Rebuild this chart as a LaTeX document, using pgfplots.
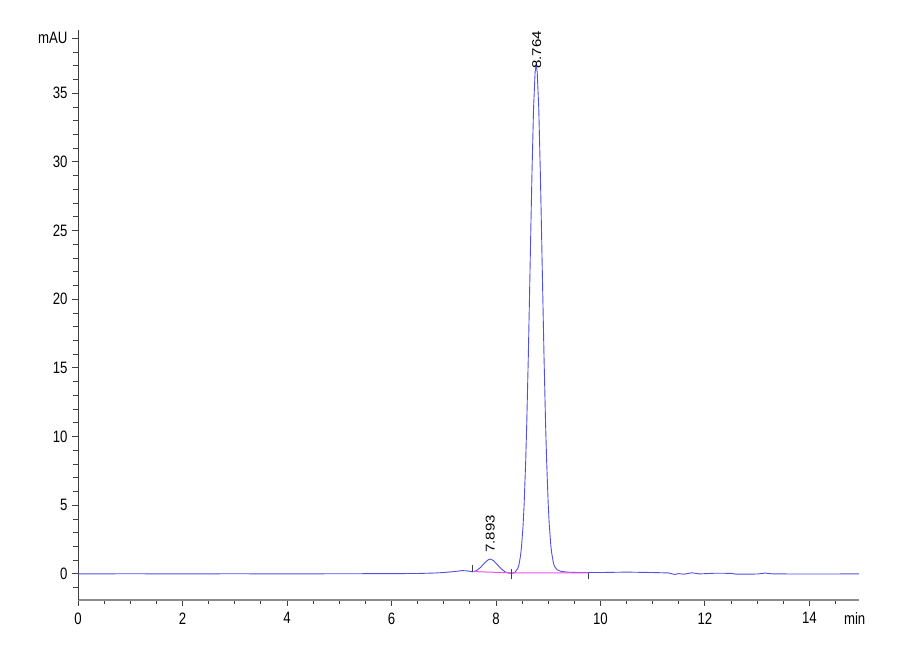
\documentclass[border=0pt]{standalone}
\usepackage{pgfplots}
\pgfplotsset{compat=1.18}
\usepackage{fontspec}
\setmainfont{Liberation Sans}[FakeStretch=0.8]
\newfontfamily\plainfont{Liberation Sans}
\definecolor{trace}{RGB}{80,80,225}
\definecolor{basecol}{RGB}{235,80,235}
\begin{document}
\begin{tikzpicture}
\begin{axis}[
    scale only axis,
    width=781pt, height=570pt,
    xmin=0, xmax=14.95,
    ymin=-1.9, ymax=39.6,
    axis lines=left,
    axis line style={-},
    x axis line style={black!45, line width=1.6pt},
    y axis line style={black!75, line width=0.8pt},
    xtick={0,2,...,14},
    minor xtick={0,0.5,...,14.5},
    ytick={0,5,...,35},
    minor ytick={-1,0,...,38},
    extra y ticks={39},
    extra y tick labels={mAU},
    tick align=outside,
    major tick length=6pt,
    minor tick length=4.5pt,
    tick style={black!75, line width=0.8pt},
    tick label style={font=\fontsize{16.5}{19}\selectfont},
    xticklabel style={yshift=-3pt},
    yticklabel style={xshift=-1pt},
    /pgf/number format/assume math mode=true,
    clip=false,
]
% signal trace
\addplot[color=trace, line width=0.9pt] coordinates {
  (0,0)(1,0.01)(2,0)(3,0.01)(4,0)(5,0.01)(6,0.02)(6.5,0.03)(6.8,0.06)
  (7.0,0.1)(7.2,0.17)(7.35,0.24)(7.45,0.22)(7.55,0.16)(7.62,0.22)(7.70,0.45)
  (7.78,0.78)(7.85,1.02)(7.89,1.08)(7.95,0.98)(8.02,0.7)(8.10,0.38)(8.17,0.16)
  (8.24,0.06)(8.30,0.04)(8.34,0.07)(8.37,0.14)(8.42,0.41)(8.44,0.65)(8.47,1.29)
  (8.49,1.97)(8.52,3.54)(8.54,5.07)(8.57,8.23)(8.59,10.95)(8.62,15.85)(8.64,19.65)
  (8.67,25.45)(8.69,29.15)(8.72,33.85)(8.75,36.55)(8.77,37.1)(8.79,36.55)
  (8.82,33.9)(8.85,29.2)(8.87,25.5)(8.90,19.7)(8.92,15.9)(8.95,11.0)(8.97,8.3)
  (9.00,5.15)(9.02,3.65)(9.05,2.1)(9.07,1.45)(9.10,0.8)(9.12,0.55)(9.17,0.3)
  (9.25,0.18)(9.40,0.12)(9.60,0.1)(10.0,0.1)(10.5,0.13)(11.0,0.1)(11.3,0.07)
  (11.42,-0.04)(11.5,0.02)(11.6,-0.02)(11.75,0.08)(11.9,0.0)(12.2,0.05)
  (12.5,0.04)(12.6,-0.02)(13.0,-0.01)(13.15,0.06)(13.3,0.0)(14.0,-0.01)(14.95,0.0)
};
% integration baseline
\addplot[color=basecol, line width=1pt] coordinates {(7.54,0.17)(8.29,0.08)(9.77,0.07)};
% peak start / end markers
\addplot[black!75, line width=0.6pt] coordinates {(7.54,0.15)(7.54,0.65)};
\addplot[black!75, line width=0.6pt] coordinates {(8.29,0.35)(8.29,-0.4)};
\addplot[black!75, line width=0.6pt] coordinates {(9.77,0.1)(9.77,-0.4)};
% retention time labels
\node[rotate=90, anchor=west, inner sep=1pt, font=\plainfont\fontsize{15}{18}\selectfont]
  at (axis cs:7.893,1.45) {\scalebox{1}[0.85]{7.893}};
\node[rotate=90, anchor=west, inner sep=1pt, font=\plainfont\fontsize{15}{18}\selectfont]
  at (axis cs:8.78,36.7) {\scalebox{1}[0.85]{8.764}};
\node[anchor=base west, inner sep=0pt, font=\fontsize{16.5}{19}\selectfont]
  at (axis cs:14.66,-1.9) [yshift=-25pt] {min};
\end{axis}
\pgfresetboundingbox
\path ([xshift=-78pt,yshift=-60pt]current axis.south west)
  rectangle ([xshift=41pt,yshift=30pt]current axis.north east);
\end{tikzpicture}
\end{document}
